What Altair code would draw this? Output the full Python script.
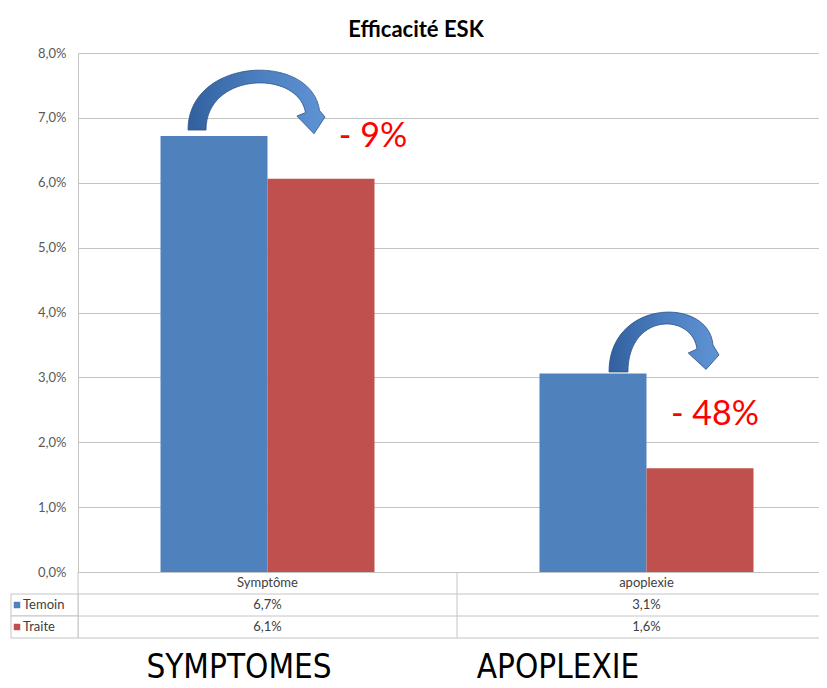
import altair as alt
import pandas as pd

# ---------------- data ----------------
categories = ["Symptôme", "apoplexie"]
series = ["Temoin", "Traite"]
temoin = [6.72, 3.06]
traite = [6.06, 1.60]
colors = ["#4F81BD", "#C0504D"]
change_labels = ["- 9%", "- 48%"]
slide_labels = ["SYMPTOMES", "APOPLEXIE"]
title_text = "Efficacité ESK"
y_ticks = [0, 1, 2, 3, 4, 5, 6, 7, 8]

# ---------------- tables built from the arrays ----------------
bar_rows = []
for i, c in enumerate(categories):
    bar_rows.append({"category": c, "series": series[0], "value": temoin[i]})
    bar_rows.append({"category": c, "series": series[1], "value": traite[i]})
bars_df = pd.DataFrame(bar_rows)

table_rows = ["header"] + series
cells = []
for i, c in enumerate(categories):
    cells.append({"category": c, "row": "header", "text": c})
    for s, vals in zip(series, [temoin, traite]):
        cells.append({"category": c, "row": s,
                      "text": f"{vals[i]:.1f}".replace(".", ",") + "%"})
cells_df = pd.DataFrame(cells)
legend_df = pd.DataFrame({"row": series, "series": series})
rows_df = pd.DataFrame({"row": table_rows})
cats_df = pd.DataFrame({"category": categories})
change_df = pd.DataFrame({"category": categories, "label": change_labels, "value": temoin})
slide_df = pd.DataFrame({"category": categories, "label": slide_labels})
title_df = pd.DataFrame({"title": [title_text]})

# ---------------- styles ----------------
W, H, TABLE_H = 750, 519, 66
FONT = "Lato"
GRID = "#c4c4c4"
TXT = "#404040"

x_scale = alt.Scale(domain=categories, range=[0, 758], paddingInner=0, paddingOuter=0)
row_scale = alt.Scale(domain=table_rows, paddingInner=0, paddingOuter=0)
color_scale = alt.Scale(domain=series, range=colors)
X = alt.X("category:N", scale=x_scale, axis=None)

ARROW1 = ("M -1 0.416 C -1 -0.657 0.803 -0.730 0.920 0.131 L 1 0.226 L 0.839 0.470 "
          "L 0.590 0.212 L 0.715 0.161 C 0.613 -0.467 -0.737 -0.438 -0.737 0.416 Z")
ARROW2 = ("M -1 0.536 C -1 -0.8 0.818 -0.836 0.891 0.045 L 1 0.227 L 0.764 0.490 "
          "L 0.440 0.191 L 0.6 0.118 C 0.509 -0.545 -0.655 -0.545 -0.655 0.536 Z")
arrow_fill = {"gradient": "linear", "x1": 0, "y1": 0, "x2": 1, "y2": 0,
              "stops": [{"offset": 0, "color": "#31609d"},
                        {"offset": 0.5, "color": "#4b7ec0"},
                        {"offset": 1, "color": "#5f93d3"}]}

# ---------------- top chart ----------------
base = alt.Chart(bars_df)
bars = base.mark_bar().encode(
    x=X,
    xOffset=alt.XOffset("series:N", scale=alt.Scale(domain=series, paddingOuter=0.771, paddingInner=0)),
    y=alt.Y("value:Q", scale=alt.Scale(domain=[0, 8], nice=False),
            axis=alt.Axis(values=y_ticks, title=None, ticks=False,
                          labelExpr="replace(format(datum.value, '.1f'), '.', ',') + '%'",
                          labelFont=FONT, labelFontSize=13, labelColor="#595959",
                          labelPadding=12, domainColor=GRID, gridColor=GRID)),
    color=alt.Color("series:N", scale=color_scale, legend=None),
)

def arrow(idx, path, size, dx, dy):
    return base.transform_filter(
        (alt.datum.series == series[0]) & (alt.datum.category == categories[idx])
    ).mark_point(shape=path, size=size, filled=True, fill=arrow_fill, opacity=1,
                 stroke="#2c5488", strokeWidth=0.8, xOffset=dx, yOffset=dy).encode(
        x=X, y="value:Q")

def change_label(idx, dx, dy):
    return alt.Chart(change_df).transform_filter(
        alt.datum.category == categories[idx]
    ).mark_text(font=FONT, fontSize=34, color="#FF0000", align="center",
                baseline="middle", dx=dx, dy=dy).encode(x=X, y="value:Q", text="label:N")

title_mark = alt.Chart(title_df).mark_text(
    font=FONT, fontSize=22, fontWeight="bold", color="#000000",
    align="center", baseline="middle").encode(
    x=alt.value(338), y=alt.value(-23), text="title:N")

top = alt.layer(
    bars,
    arrow(0, ARROW1, 18769, -11, -34.5),
    arrow(1, ARROW2, 12100, 17.5, -31),
    change_label(0, 105.5, 1),
    change_label(1, 68.5, 41.5),
    title_mark,
).properties(width=W, height=H)

# ---------------- data table ----------------
Y = alt.Y("row:N", scale=row_scale, axis=None)
vrules = alt.Chart(cats_df).mark_rule(color=GRID).encode(
    x=alt.X("category:N", scale=x_scale, axis=None, bandPosition=0))
hrules = alt.Chart(rows_df).mark_rule(color=GRID).encode(
    y=alt.Y("row:N", scale=row_scale, axis=None, bandPosition=1),
    x=alt.value(0), x2=alt.value(W))
legend_cells = alt.Chart(legend_df).mark_rect(fill="white", stroke=GRID).encode(
    y=Y, x=alt.value(-67), x2=alt.value(0))
cell_text = alt.Chart(cells_df).mark_text(font=FONT, fontSize=13, color=TXT).encode(
    x=X, y=Y, text="text:N")
swatches = alt.Chart(legend_df).mark_square(size=42, opacity=1).encode(
    y=Y, x=alt.value(-61),
    color=alt.Color("series:N", scale=color_scale, legend=None))
legend_text = alt.Chart(legend_df).mark_text(font=FONT, fontSize=13, color=TXT, align="left").encode(
    y=Y, x=alt.value(-55), text="series:N")

SLIDE_FONT = "DejaVu Sans Condensed, Liberation Sans, Arial, sans-serif"

def slide_label(idx, dx):
    return alt.Chart(slide_df).transform_filter(
        alt.datum.category == categories[idx]
    ).mark_text(font=SLIDE_FONT, fontSize=33, color="#000000",
                align="center", baseline="alphabetic", dx=dx).encode(
        x=X, y=alt.value(106), text="label:N")

table = alt.layer(
    vrules, hrules, legend_cells, cell_text, swatches, legend_text,
    slide_label(0, -28.5), slide_label(1, -88.5),
).properties(width=W, height=TABLE_H)

chart = alt.vconcat(top, table, spacing=0, bounds="flush").properties(
    padding={"left": 2, "top": 11, "right": -10, "bottom": -7}
).configure_view(stroke=None).configure_axis(grid=True)

chart.save("out.html", embed_options={"renderer": "svg", "actions": False})
